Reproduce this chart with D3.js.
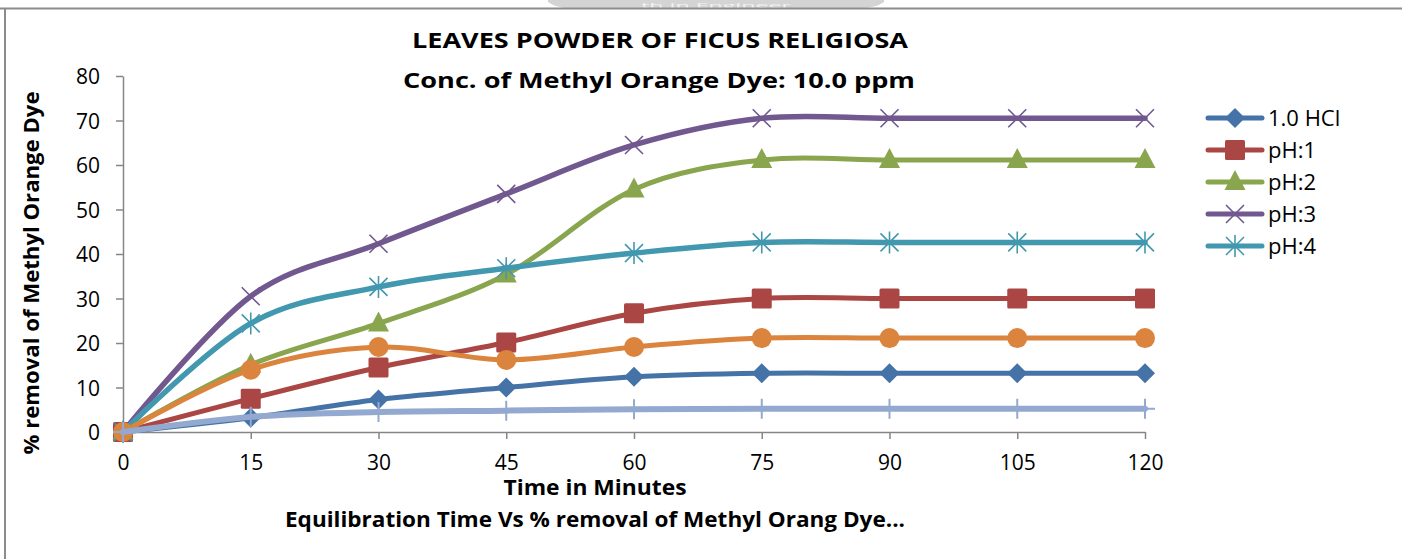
<!DOCTYPE html>
<html>
<head>
<meta charset="utf-8">
<script src="https://cdn.jsdelivr.net/npm/d3@7"></script>
<style>
	body { margin: 0; background: #fff; }
	svg { display: block; font-family: "Open Sans", sans-serif; }
</style>
</head>
<body>
<main></main>
<script>
// Data

const minutes = [0, 15, 30, 45, 60, 75, 90, 105, 120];
const hcl = [0, 3.2, 7.3, 10.0, 12.4, 13.2, 13.2, 13.2, 13.2];
const ph1 = [0, 7.5, 14.5, 20.1, 26.7, 30.0, 30.0, 30.0, 30.0];
const ph2 = [0, 15.1, 24.4, 35.4, 54.5, 61.1, 61.1, 61.1, 61.1];
const ph3 = [0, 30.5, 42.3, 53.5, 64.5, 70.5, 70.5, 70.5, 70.5];
const ph4 = [0, 24.4, 32.6, 36.8, 40.2, 42.6, 42.6, 42.6, 42.6];
const unnamedOrange = [0, 14.0, 19.1, 16.2, 19.1, 21.1, 21.1, 21.1, 21.1];
const unnamedLight = [0, 3.4, 4.5, 4.8, 5.1, 5.2, 5.2, 5.2, 5.2];

const xTicks = [0, 15, 30, 45, 60, 75, 90, 105, 120];
const yTicks = [0, 10, 20, 30, 40, 50, 60, 70, 80];

const series = [
	{ name: "1.0 HCl", values: hcl, color: "#4572A7", marker: "diamond", width: 5, legend: true },
	{ name: "pH:1", values: ph1, color: "#AA4643", marker: "square", width: 5, legend: true },
	{ name: "pH:2", values: ph2, color: "#89A54E", marker: "triangle", width: 5, legend: true },
	{ name: "pH:3", values: ph3, color: "#71588F", marker: "cross", width: 5.5, legend: true },
	{ name: "pH:4", values: ph4, color: "#4198AF", marker: "star", width: 5.5, legend: true },
	{ name: "", values: unnamedOrange, color: "#DB843D", marker: "circle", width: 5, legend: false },
	{ name: "", values: unnamedLight, color: "#93A9CF", marker: "plus", width: 6, legend: false },
];

// Dimensions

const width = 1402;
const height = 559;
const axisColor = "#868686";

const svg = d3.select("main")
	.append("svg")
		.attr("width", width)
		.attr("height", height);

// Frame and watermark

svg.append("path")
	.attr("d", "M548,0 L548,2 Q556,8 570,8 L860,8 Q876,8 884,2 L884,0 Z")
	.attr("fill", "#d4d4d4");
svg.append("text")
	.attr("x", 716)
	.attr("y", 7.6)
	.attr("text-anchor", "middle")
	.attr("font-size", 7)
	.attr("fill", "#f2f2f2")
	.attr("textLength", 150)
	.attr("lengthAdjust", "spacingAndGlyphs")
	.text("th in Engineer");

svg.append("line")
	.attr("x1", 0).attr("x2", width)
	.attr("y1", 8.5).attr("y2", 8.5)
	.attr("stroke", "#8c8c8c")
	.attr("stroke-width", 2);
svg.append("line")
	.attr("x1", 5).attr("x2", 5)
	.attr("y1", 8).attr("y2", height)
	.attr("stroke", "#8c8c8c")
	.attr("stroke-width", 2);

// Scales

const xScale = d3.scaleLinear()
	.domain([0, 120])
	.range([123, 1145]);

const yScale = d3.scaleLinear()
	.domain([0, 80])
	.range([432, 76]);

// Axes

const yAxis = svg.append("g")
	.attr("transform", `translate(${xScale(0)},0)`)
	.call(d3.axisLeft(yScale).tickValues(yTicks).tickSize(7).tickPadding(16).tickSizeOuter(0));

const xAxis = svg.append("g")
	.attr("transform", `translate(0,${yScale(0)})`)
	.call(d3.axisBottom(xScale).tickValues(xTicks).tickSize(7).tickPadding(20).tickSizeOuter(0));

[xAxis, yAxis].forEach(ax => {
	ax.select(".domain").attr("stroke", axisColor).attr("stroke-width", 1.5);
	ax.selectAll(".tick line").attr("stroke", axisColor).attr("stroke-width", 1.5);
	ax.selectAll(".tick text")
		.attr("fill", "#000")
		.attr("font-size", 21)
		.attr("font-family", "Open Sans, sans-serif");
});
yAxis.selectAll(".tick text").attr("dy", "0.36em");
xAxis.selectAll(".tick text").attr("dy", "0.5em");

// Titles

const titleText = (txt, x, y, len, size) => svg.append("text")
	.attr("x", x)
	.attr("y", y)
	.attr("text-anchor", "middle")
	.attr("font-weight", "bold")
	.attr("font-size", size)
	.attr("textLength", len)
	.attr("lengthAdjust", "spacingAndGlyphs")
	.text(txt);

titleText("LEAVES POWDER OF FICUS RELIGIOSA", 660, 48, 496, 22);
titleText("Conc. of Methyl Orange Dye: 10.0 ppm", 659, 88, 512, 22);
titleText("Time  in Minutes", 595, 495, 183, 21);
titleText("Equilibration Time Vs % removal of Methyl Orang Dye...", 595, 527, 620, 21);

svg.append("text")
	.attr("transform", "translate(39,273) rotate(-90)")
	.attr("text-anchor", "middle")
	.attr("font-weight", "bold")
	.attr("font-size", 21)
	.attr("textLength", 363)
	.attr("lengthAdjust", "spacingAndGlyphs")
	.text("% removal of Methyl Orange Dye");

// Markers

function drawMarker(g, type, color) {
	if (type === "diamond") {
		g.append("path").attr("d", "M0,-10 L10,0 L0,10 L-10,0 Z").attr("fill", color);
	} else if (type === "square") {
		g.append("rect").attr("x", -10).attr("y", -10).attr("width", 20).attr("height", 20)
			.attr("rx", 1.5).attr("fill", color);
	} else if (type === "triangle") {
		g.append("path").attr("d", "M0,-12 L10.5,8 L-10.5,8 Z").attr("fill", color);
	} else if (type === "circle") {
		g.append("circle").attr("r", 10).attr("fill", color);
	} else if (type === "cross") {
		g.append("path").attr("d", "M-9,-9 L9,9 M-9,9 L9,-9")
			.attr("stroke", color).attr("stroke-width", 1.6).attr("fill", "none");
	} else if (type === "star") {
		g.append("path").attr("d", "M-9,-9 L9,9 M-9,9 L9,-9 M0,-11 L0,11")
			.attr("stroke", color).attr("stroke-width", 1.6).attr("fill", "none");
	} else if (type === "plus") {
		g.append("path").attr("d", "M0,-10 L0,10 M-10,0 L10,0")
			.attr("stroke", color).attr("stroke-width", 2).attr("fill", "none");
	}
}

// Lines

const lineGenerator = d3.line()
	.x((d, i) => xScale(minutes[i]))
	.y(d => yScale(d))
	.curve(d3.curveCardinal.tension(0));

series.forEach(s => {
	const g = svg.append("g");
	g.append("path")
		.attr("d", lineGenerator(s.values))
		.attr("fill", "none")
		.attr("stroke", s.color)
		.attr("stroke-width", s.width)
		.attr("stroke-linecap", "round")
		.attr("stroke-linejoin", "round");
	s.values.forEach((v, i) => {
		const m = g.append("g").attr("transform", `translate(${xScale(minutes[i])},${yScale(v)})`);
		drawMarker(m, s.marker, s.color);
	});
});

// Legend

const legendY = d3.scaleLinear().domain([0, 4]).range([118, 246]);
const legend = svg.append("g");
series.filter(s => s.legend).forEach((s, i) => {
	const row = legend.append("g").attr("transform", `translate(1208,${legendY(i)})`);
	row.append("line")
		.attr("x1", 0).attr("x2", 54)
		.attr("stroke", s.color)
		.attr("stroke-width", 5)
		.attr("stroke-linecap", "round");
	drawMarker(row.append("g").attr("transform", "translate(27,0)"), s.marker, s.color);
	row.append("text")
		.attr("x", 60)
		.attr("dy", "0.36em")
		.attr("font-size", 22)
		.text(s.name);
});
</script>
</body>
</html>
